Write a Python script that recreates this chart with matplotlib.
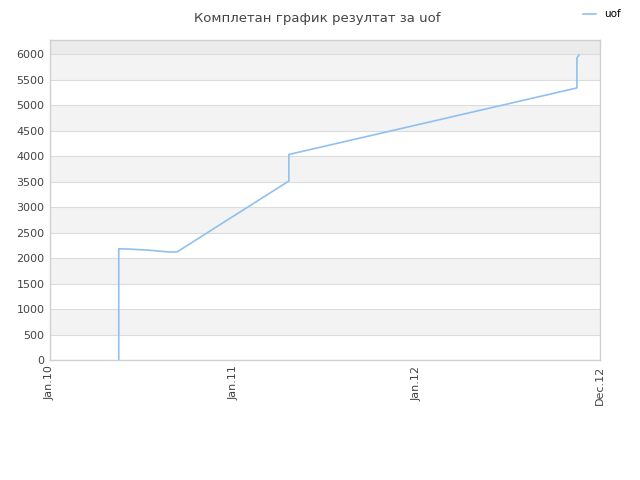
import matplotlib
matplotlib.use("Agg")
import matplotlib.pyplot as plt
import datetime as dt

dates = ["2010-05-18", "2010-05-18", "2010-05-18", "2010-05-18", "2010-06-07",
         "2010-07-15", "2010-08-24", "2010-09-11", "2011-04-22", "2011-04-22",
         "2012-11-16", "2012-11-16", "2012-11-16", "2012-11-20"]
values = [0, 530, 1650, 2180, 2175, 2155, 2120, 2118, 3510, 4030, 5335, 5690, 5920, 5980]
series_name = "uof"
title = "Комплетан график резултат за uof"
xtick_dates = ["2010-01-01", "2011-01-01", "2012-01-01", "2013-01-01"]
xtick_labels = ["Jan.10", "Jan.11", "Jan.12", "Dec.12"]
yticks = list(range(0, 6001, 500))

x = [dt.datetime.strptime(d, "%Y-%m-%d") for d in dates]
xt = [dt.datetime.strptime(d, "%Y-%m-%d") for d in xtick_dates]

fig = plt.figure(figsize=(6.4, 4.8), dpi=100)
ax = fig.add_axes([50/640, 120/480, 550/640, 320/480])
ymax = 6275
ax.set_ylim(0, ymax)
ax.set_xlim(xt[0], xt[-1])

for lo in yticks:
    hi = lo + 500 if lo < 6000 else ymax
    if lo == 6000:
        ax.axhspan(lo, hi, color="#ebebeb", zorder=0, lw=0)
    elif (lo // 500) % 2 == 1:
        ax.axhspan(lo, hi, color="#f3f3f3", zorder=0, lw=0)
for y in yticks:
    ax.axhline(y, color="#dcdcdc", lw=0.8, zorder=1)

ax.plot(x, values, color="#90c0f0", lw=1.2, label=series_name, zorder=3)

ax.set_yticks(yticks)
ax.set_yticklabels([str(v) for v in yticks], fontsize=8, color="#444444")
ax.set_xticks(xt)
ax.set_xticklabels(xtick_labels, rotation=90, fontsize=8, color="#444444")
ax.tick_params(length=0, pad=4)
for s in ax.spines.values():
    s.set_color("#d0d0d0")
    s.set_linewidth(1)

fig.text(0.495, 0.975, title, ha="center", va="top", fontsize=9.5, color="#444444")
fig.legend(loc="upper right", bbox_to_anchor=(0.985, 1.0), frameon=False,
           fontsize=7.5, handlelength=1.2, handletextpad=0.8)
fig.savefig("out.png", dpi=100)
